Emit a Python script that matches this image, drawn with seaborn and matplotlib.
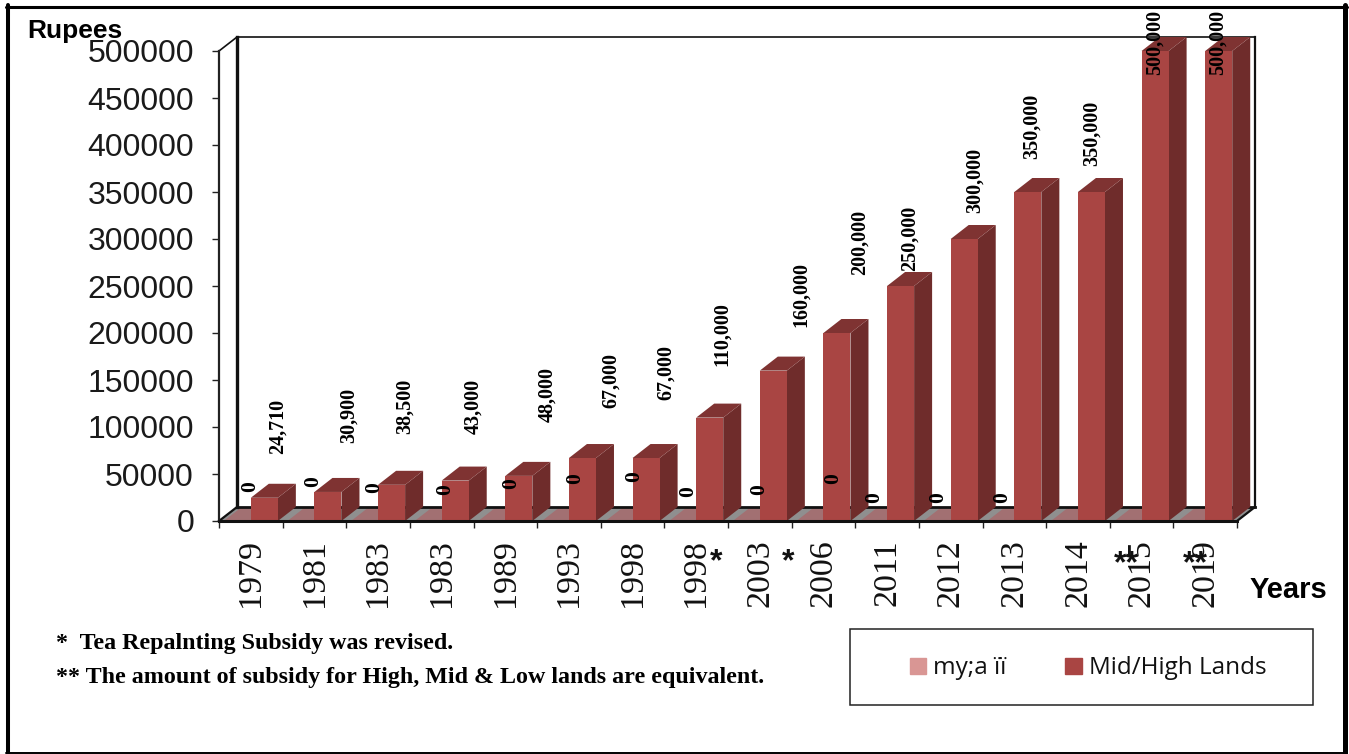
from matplotlib import pyplot as plt
from matplotlib.patches import Polygon, Rectangle
from matplotlib.lines import Line2D
import seaborn as sns
import numpy as np
import pandas as pd

years = ['1979', '1981', '1983', '1983', '1989', '1993', '1998', '1998',
         '2003', '2006', '2011', '2012', '2013', '2014', '2015', '2019']
mid_high = [24710, 30900, 38500, 43000, 48000, 67000, 67000, 110000,
            160000, 200000, 250000, 300000, 350000, 350000, 500000, 500000]
other = [0] * 16
value_labels = ['24,710', '30,900', '38,500', '43,000', '48,000', '67,000', '67,000', '110,000',
                '160,000', '200,000', '250,000', '300,000', '350,000', '350,000', '500,000', '500,000']
y_ticks = [0, 50000, 100000, 150000, 200000, 250000, 300000, 350000, 400000, 450000, 500000]
series_names = ['my;a ïï', 'Mid/High Lands']

# where the labels were put by hand in the original, in pixels
value_label_px = [(278, 426), (349, 415), (405, 406), (473, 406), (547, 394), (611, 381), (666, 372), (722, 334),
                  (801, 294), (860, 242), (910, 238), (975, 180), (1032, 126), (1092, 133), (1155, 42), (1218, 42)]
zero_label_px = [(250, 487), (313, 482), (374, 488), (445, 490), (511, 484), (575, 479), (634, 477), (688, 492),
                 (759, 490), (833, 479), (874, 498), (938, 498), (1002, 498)]
star_label_px = [('*', 716, 562), ('*', 788, 562), ('**', 1126, 564), ('**', 1195, 564)]

W, H = 1349, 754
FRONT, SIDE, TOP = '#a94543', '#6f2c2b', '#7f3332'
PINK = '#d99694'
SERIF = 'Liberation Serif'
SANS = 'Liberation Sans'


def fx(x):
    return x / W


def fy(y):
    return 1 - y / H


sns.set_theme(style='white')
fig = plt.figure(figsize=(W / 100, H / 100), dpi=100)
ax = fig.add_axes([fx(219), fy(521), fx(1237 - 219), fy(51) - fy(521)])
ax.patch.set_alpha(0)

df = pd.DataFrame({'pos': list(range(16)) * 2,
                   'series': [series_names[0]] * 16 + [series_names[1]] * 16,
                   'value': other + mid_high})
sns.barplot(data=df, x='pos', y='value', hue='series', hue_order=series_names,
            palette=[PINK, FRONT], width=0.85, gap=0, saturation=1, legend=False,
            linewidth=0, ax=ax)
ax.set_xlim(-0.5, 15.5)
ax.set_ylim(0, 500000)

# depth of the fake 3d box, in data units
dx = 18 / ((1237 - 219) / 16)
dy = 14 / 470 * 500000


def poly(pts, color, z):
    ax.add_patch(Polygon(pts, closed=True, facecolor=color, edgecolor='none', clip_on=False, zorder=z))


def line(xs, ys, lw, color='#111111', z=1.5):
    ax.add_line(Line2D(xs, ys, lw=lw, color=color, clip_on=False, zorder=z, solid_capstyle='projecting'))


# floor and walls
x0, x1 = -0.5, 15.5
poly([(x0, 0), (x1, 0), (x1 + dx, dy), (x0 + dx, dy)], '#8f8f8f', 1)
line([x0 + dx, x0 + dx], [dy, 500000 + dy], 2.4)
line([x0 + dx, x1 + dx], [500000 + dy, 500000 + dy], 1.2)
line([x1 + dx, x1 + dx], [dy, 500000 + dy], 1.6)
line([x0 + dx, x1 + dx], [dy, dy], 2)
line([x0, x0 + dx], [500000, 500000 + dy], 1.2)
line([x0, x0 + dx], [0, dy], 1.6)
line([x1, x1 + dx], [0, dy], 1.6)

# sides and tops of the bars
for bar in ax.containers[0]:
    l, w = bar.get_x(), bar.get_width()
    poly([(l, 0), (l + w, 0), (l + w + dx, dy), (l + dx, dy)], '#a27072', 1.2)
    bar.set_visible(False)
for bar in ax.containers[1]:
    l, w, h = bar.get_x(), bar.get_width(), bar.get_height()
    bar.set_zorder(3)
    poly([(l + w, 0), (l + w + dx, dy), (l + w + dx, h + dy), (l + w, h)], SIDE, 2.5)
    poly([(l, h), (l + w, h), (l + w + dx, h + dy), (l + dx, h + dy)], TOP, 2.5)

for s in ['top', 'right']:
    ax.spines[s].set_visible(False)
ax.spines['left'].set_linewidth(1.6)
ax.spines['left'].set_color('#222222')
ax.spines['bottom'].set_linewidth(2.2)
ax.spines['bottom'].set_color('#111111')
ax.spines['left'].set_zorder(5)
ax.spines['bottom'].set_zorder(5)

ax.set_xlabel('')
ax.set_ylabel('')
ax.set_yticks(y_ticks)
ax.set_yticklabels([str(v) for v in y_ticks], fontsize=23, family=SANS, color='#1a1a1a')
ax.tick_params(axis='y', left=True, length=5, width=1, pad=13, color='#222222')
ax.set_xticks(np.arange(16))
ax.set_xticklabels(years, rotation=90, fontsize=24.5, family=SERIF, color='#111111')
ax.set_xticks(np.arange(17) - 0.5, minor=True)
ax.tick_params(axis='x', which='major', bottom=False, length=0, pad=13)
ax.tick_params(axis='x', which='minor', bottom=True, length=5, width=1, color='#222222')

# data labels
for txt, (x, y) in zip(value_labels, value_label_px):
    fig.text(fx(x), fy(y), txt, rotation=90, ha='center', va='center', fontsize=14.5,
             fontweight='bold', family=SERIF, color='black', zorder=6)
for x, y in zero_label_px:
    fig.text(fx(x), fy(y), '0', rotation=90, ha='center', va='center', fontsize=15.5,
             fontweight='bold', family=SERIF, color='black', zorder=6)
for txt, x, y in star_label_px:
    fig.text(fx(x), fy(y), txt, ha='center', va='center', fontsize=23, fontweight='bold',
             family=SANS, color='#111111', zorder=6)

fig.text(fx(27), fy(31), 'Rupees', ha='left', va='center', fontsize=19, fontweight='bold', family=SANS, color='black')
fig.text(fx(1250), fy(590), 'Years', ha='left', va='center', fontsize=21, fontweight='bold', family=SANS, color='black')

fig.text(fx(56), fy(644), '*  Tea Repalnting Subsidy was revised.', ha='left', va='center',
         fontsize=17.3, fontweight='bold', family=SERIF, color='black')
fig.text(fx(56), fy(678), '** The amount of subsidy for High, Mid & Low lands are equivalent.', ha='left', va='center',
         fontsize=17.3, fontweight='bold', family=SERIF, color='black')

# legend
fig.add_artist(Rectangle((fx(850), fy(705)), fx(1313 - 850), fy(629) - fy(705), facecolor='white',
                         edgecolor='#222222', lw=1.1, transform=fig.transFigure))
handles = [Rectangle((0, 0), 1, 1, color=PINK), Rectangle((0, 0), 1, 1, color=FRONT)]
fig.legend(handles, series_names, loc='center', bbox_to_anchor=(fx(1088), fy(668.5)), ncol=2, frameon=False,
           prop={'family': 'Open Sans', 'size': 17.5}, handlelength=0.68, handleheight=0.68,
           handletextpad=0.3, columnspacing=2.4, labelcolor='#111111')

# outer frame, the sides are not equally thick in the original
for xs, ys, lw in [((8, 8), (5, 754), 2.9), ((1344.5, 1344.5), (5, 754), 3.6),
                   ((6, 1347), (6.5, 6.5), 2.2), ((6, 1347), (753, 753), 1.4)]:
    fig.add_artist(Line2D([fx(xs[0]), fx(xs[1])], [fy(ys[0]), fy(ys[1])], lw=lw, color='black',
                          transform=fig.transFigure))

fig.savefig('out.png', dpi=100)
